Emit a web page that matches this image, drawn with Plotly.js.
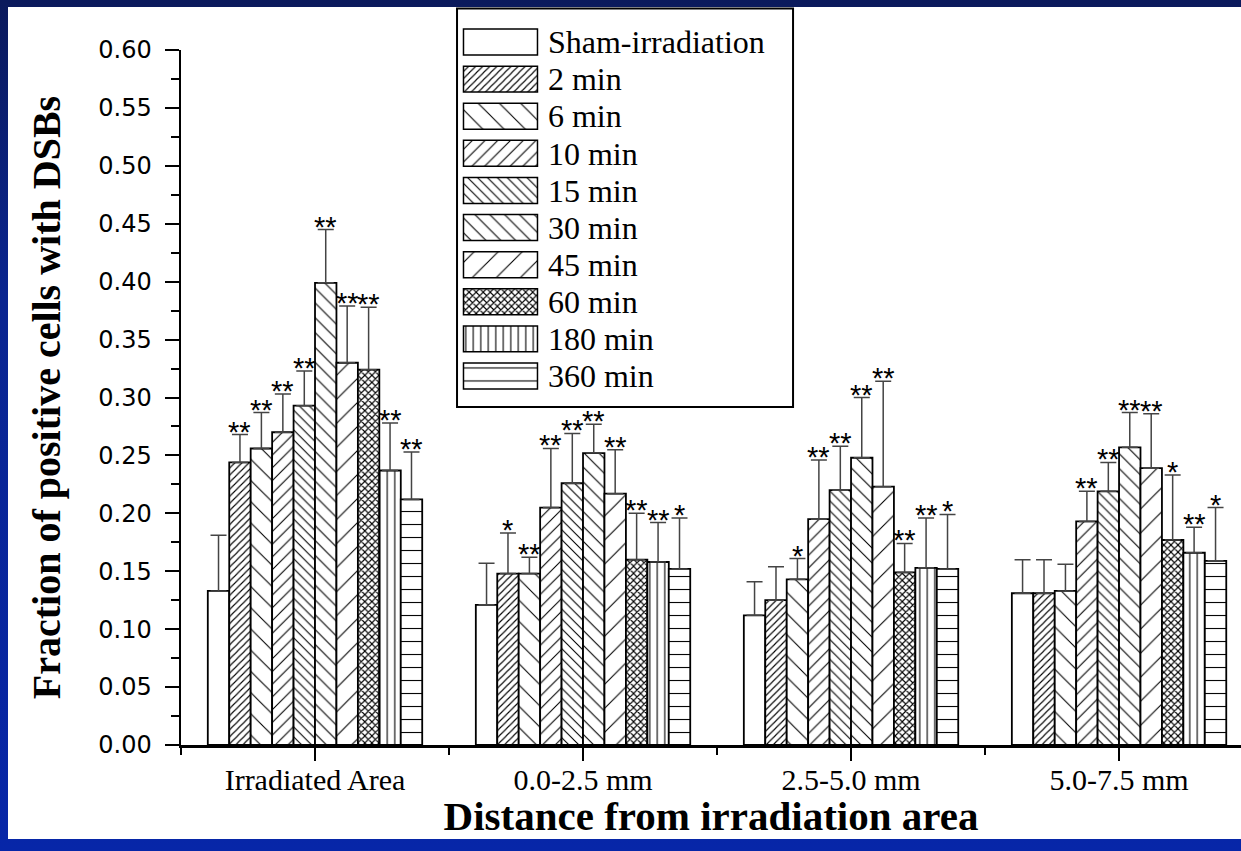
<!DOCTYPE html>
<html><head><meta charset="utf-8">
<script src="https://cdn.plot.ly/plotly-3.0.1.min.js"></script>
<style>
html,body{margin:0;padding:0;width:1241px;height:851px;overflow:hidden;
background:linear-gradient(to bottom,#0b1a5c 0%,#0a2590 35%,#0726a8 100%);}
#chart{position:absolute;left:8px;top:7px;width:1233px;height:832px;background:#fff;}
</style></head><body><div id="chart"></div>
<script>
// ---------- data ----------
const categories = ['Irradiated Area', '0.0-2.5 mm', '2.5-5.0 mm', '5.0-7.5 mm'];
const series = ['Sham-irradiation', '2 min', '6 min', '10 min', '15 min', '30 min', '45 min', '60 min', '180 min', '360 min'];

const shamMean = [0.133, 0.121, 0.112, 0.131];
const min2Mean = [0.244, 0.148, 0.125, 0.131];
const min6Mean = [0.256, 0.148, 0.143, 0.133];
const min10Mean = [0.270, 0.205, 0.195, 0.193];
const min15Mean = [0.293, 0.226, 0.220, 0.219];
const min30Mean = [0.399, 0.252, 0.248, 0.257];
const min45Mean = [0.330, 0.217, 0.223, 0.239];
const min60Mean = [0.324, 0.160, 0.149, 0.177];
const min180Mean = [0.237, 0.158, 0.153, 0.166];
const min360Mean = [0.212, 0.152, 0.152, 0.159];

const shamErr = [0.048, 0.036, 0.029, 0.029];
const min2Err = [0.024, 0.035, 0.029, 0.029];
const min6Err = [0.031, 0.014, 0.018, 0.023];
const min10Err = [0.033, 0.051, 0.051, 0.026];
const min15Err = [0.030, 0.043, 0.038, 0.025];
const min30Err = [0.046, 0.025, 0.052, 0.030];
const min45Err = [0.049, 0.038, 0.091, 0.047];
const min60Err = [0.054, 0.040, 0.025, 0.056];
const min180Err = [0.041, 0.034, 0.043, 0.022];
const min360Err = [0.041, 0.044, 0.047, 0.046];

const shamSig = ['', '', '', ''];
const min2Sig = ['**', '*', '', ''];
const min6Sig = ['**', '**', '*', ''];
const min10Sig = ['**', '**', '**', '**'];
const min15Sig = ['**', '**', '**', '**'];
const min30Sig = ['**', '**', '**', '**'];
const min45Sig = ['**', '**', '**', '**'];
const min60Sig = ['**', '**', '**', '*'];
const min180Sig = ['**', '**', '**', '**'];
const min360Sig = ['**', '*', '*', '*'];

const means = [shamMean, min2Mean, min6Mean, min10Mean, min15Mean, min30Mean, min45Mean, min60Mean, min180Mean, min360Mean];
const errs = [shamErr, min2Err, min6Err, min10Err, min15Err, min30Err, min45Err, min60Err, min180Err, min360Err];
const sigs = [shamSig, min2Sig, min6Sig, min10Sig, min15Sig, min30Sig, min45Sig, min60Sig, min180Sig, min360Sig];

// ---------- style ----------
const patShapes = ['', '/', '\\', '/', '\\', '\\', '/', 'x', '|', '-'];
const patSizes = [8, 5, 15, 9, 7, 10.5, 17, 5, 7.5, 13];
const lineW = 1.1;
const patSolidity = patShapes.map((s, i) => {
  const sz = patSizes[i];
  if (s === 'x') return 1 - Math.pow(1 - lineW / sz, 2);
  return Math.min(1, lineW / sz);
});

const bargap = 0.2;
const catPos = categories.map((c, i) => i);
const slot = (1 - bargap) / series.length;

const traces = [];
const annotations = [];
series.forEach((name, si) => {
  traces.push({
    type: 'bar', name: name, x: catPos, y: means[si],
    xaxis: 'x', yaxis: 'y', showlegend: false,
    marker: {
      color: '#ffffff',
      line: { color: '#000', width: 1.8 },
      pattern: { shape: patShapes[si], size: patSizes[si], solidity: patSolidity[si], fgcolor: '#000', bgcolor: '#fff', fillmode: 'replace' }
    },
    error_y: {
      type: 'data', symmetric: false, array: errs[si], arrayminus: errs[si].map(() => 0),
      color: '#444', thickness: 1.5, width: 8
    }
  });
  categories.forEach((c, ci) => {
    if (!sigs[si][ci]) return;
    annotations.push({
      x: ci + (si - (series.length - 1) / 2) * slot,
      y: means[si][ci] + errs[si][ci],
      xref: 'x', yref: 'y', text: sigs[si][ci], showarrow: false,
      yanchor: 'bottom', xanchor: 'center', yshift: -15,
      font: { family: 'Liberation Sans', size: 29, color: '#000' }
    });
  });
});

// legend swatches
traces.push({
  type: 'bar', orientation: 'h', y: series, x: series.map(() => 1), base: 0, width: 0.7,
  xaxis: 'x2', yaxis: 'y2', showlegend: false, hoverinfo: 'skip',
  marker: {
    color: '#ffffff',
    line: { color: '#000', width: 1.5 },
    pattern: { shape: patShapes, size: patSizes, solidity: patSolidity, fgcolor: '#000', bgcolor: '#fff', fillmode: 'replace' }
  }
});

const layout = {
  width: 1233, height: 832,
  margin: { l: 173, r: 0, t: 0, b: 94 },
  paper_bgcolor: '#ffffff', plot_bgcolor: 'rgba(0,0,0,0)',
  barmode: 'group', bargap: bargap, bargroupgap: 0,
  showlegend: false,
  xaxis: {
    domain: [0, 1], range: [-0.5, 3.455], anchor: 'y',
    tickmode: 'array', tickvals: catPos, ticktext: categories,
    ticks: 'outside', ticklen: 13, tickwidth: 2, tickcolor: '#000',
    showline: true, linecolor: '#000', linewidth: 2.5,
    showgrid: false, zeroline: false, automargin: false,
    ticklabelstandoff: -7,
    tickfont: { family: 'Liberation Serif', size: 30, color: '#000' },
    minor: { tick0: 0.5, dtick: 1, ticks: 'outside', ticklen: 7, tickwidth: 2, tickcolor: '#000', showgrid: false },
    title: { text: 'Distance from irradiation area', standoff: 10,
      font: { family: 'Liberation Serif', size: 41, color: '#000', weight: 'bold' } }
  },
  yaxis: {
    domain: [0, 0.9417], range: [0, 0.6], anchor: 'x',
    tick0: 0, dtick: 0.05, tickformat: '.2f',
    ticks: 'outside', ticklen: 14, tickwidth: 2, tickcolor: '#000',
    showline: true, linecolor: '#000', linewidth: 2.5,
    showgrid: false, zeroline: false, automargin: false,
    ticklabelstandoff: 8,
    tickfont: { family: 'DejaVu Sans', size: 24, color: '#000' },
    minor: { tick0: 0, dtick: 0.025, ticks: 'outside', ticklen: 8, tickwidth: 2, tickcolor: '#000', showgrid: false },
    title: { text: 'Fraction of positive cells with DSBs', standoff: 26,
      font: { family: 'Liberation Serif', size: 40, color: '#000', weight: 'bold' } }
  },
  xaxis2: { domain: [0.2651, 0.3377], range: [-0.02, 1.02], visible: false, anchor: 'y2', fixedrange: true },
  yaxis2: {
    domain: [0.4749, 0.9777], type: 'category', categoryorder: 'array', categoryarray: series,
    tickmode: 'array', tickvals: series, ticktext: series,
    autorange: 'reversed', anchor: 'x2', side: 'right',
    showline: false, showgrid: false, zeroline: false, ticks: '', automargin: false,
    ticklabelstandoff: 8,
    tickfont: { family: 'Liberation Serif', size: 32, color: '#000' }
  },
  shapes: [{
    type: 'rect', xref: 'paper', yref: 'paper', x0: 0.2604, x1: 0.5774, y0: 0.458, y1: 0.998,
    line: { color: '#000', width: 2 }, fillcolor: 'rgba(0,0,0,0)', layer: 'above'
  }],
  annotations: annotations
};

Plotly.newPlot('chart', traces, layout, { displayModeBar: false, staticPlot: true });
</script></body></html>
